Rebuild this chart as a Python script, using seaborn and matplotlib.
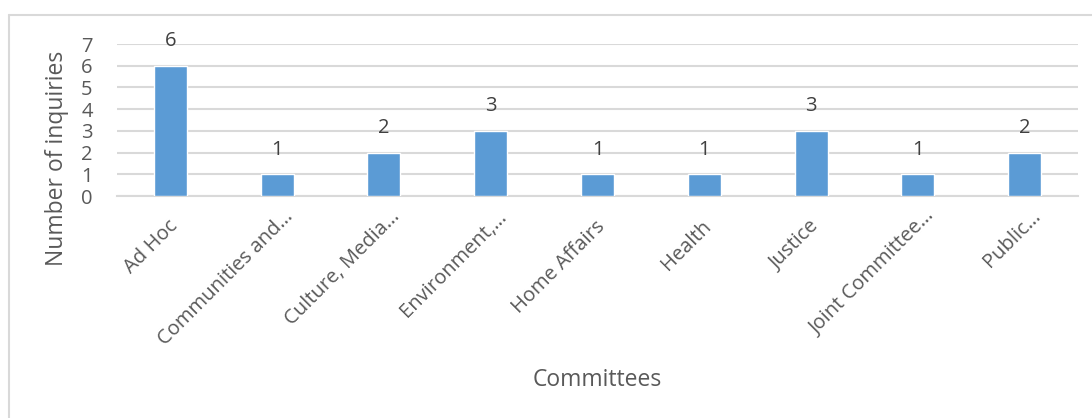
import matplotlib
matplotlib.use('Agg')
import matplotlib.pyplot as plt
from matplotlib.lines import Line2D
from matplotlib.transforms import ScaledTranslation
import pandas as pd
import seaborn as sns

# Inquiries per committee
committees = ['Ad Hoc', 'Communities and…', 'Culture, Media…', 'Environment,…',
              'Home Affairs', 'Health', 'Justice', 'Joint Committee…', 'Public…']
inquiries = [6, 1, 2, 3, 1, 1, 3, 1, 2]

df = pd.DataFrame({'committee': committees, 'inquiries': inquiries})

sns.set_theme(style='white')
plt.rcParams['font.family'] = ['Open Sans', 'DejaVu Sans']
text_col = '#595959'
grid_col = '#D9D9D9'

fig = plt.figure(figsize=(10.92, 4.18), dpi=100)
ax = fig.add_axes([117 / 1092, 1 - 196 / 418, (1078 - 117) / 1092, (196 - 44) / 418])

sns.barplot(data=df, x='committee', y='inquiries', color='#5B9BD5',
            width=0.31, saturation=1, ax=ax, zorder=3)

ax.set_ylim(0, 7)
ax.set_yticks(range(0, 8))
ax.grid(axis='y', color=grid_col, linewidth=1.5, zorder=0)
for s in ['top', 'right', 'left']:
    ax.spines[s].set_visible(False)
ax.spines['bottom'].set_color(grid_col)
ax.spines['bottom'].set_linewidth(1.5)
ax.tick_params(axis='both', length=0, labelsize=14.5, labelcolor=text_col)
ax.tick_params(axis='y', pad=17.5)
ax.tick_params(axis='x', pad=0)

# rotated labels: baseline end placed a bit right of / below the tick
for lab in ax.get_xticklabels():
    lab.set_rotation(45)
    lab.set_ha('right')
    lab.set_va('baseline')
    lab.set_rotation_mode('anchor')
    if lab.get_text().endswith('…'):
        dx, dy = 17, -21
    else:
        dx, dy = 8, -31
    lab.set_transform(lab.get_transform() +
                      ScaledTranslation(dx / 100, dy / 100, fig.dpi_scale_trans))

for p, v in zip(ax.patches, inquiries):
    ax.annotate(str(v), (p.get_x() + p.get_width() / 2, v),
                xytext=(0, 10.5), textcoords='offset points',
                ha='center', va='bottom', fontsize=14.5, color='#404040')

ax.set_xlabel('')
ax.set_ylabel('')
fig.text(57 / 1092, 1 - 158 / 418, 'Number of inquiries', rotation=90,
         ha='center', va='center', fontsize=16.5, color=text_col)
fig.text(597 / 1092, 1 - 380 / 418, 'Committees',
         ha='center', va='center', fontsize=16.5, color=text_col)

# chart area border (top and left edges visible)
fig.add_artist(Line2D([8.5 / 1092, 8.5 / 1092], [0, 1 - 14.5 / 418],
                      color=grid_col, linewidth=1.5))
fig.add_artist(Line2D([8.5 / 1092, 1], [1 - 14.5 / 418, 1 - 14.5 / 418],
                      color=grid_col, linewidth=1.5))

fig.savefig('out.png', dpi=100, facecolor='white')
